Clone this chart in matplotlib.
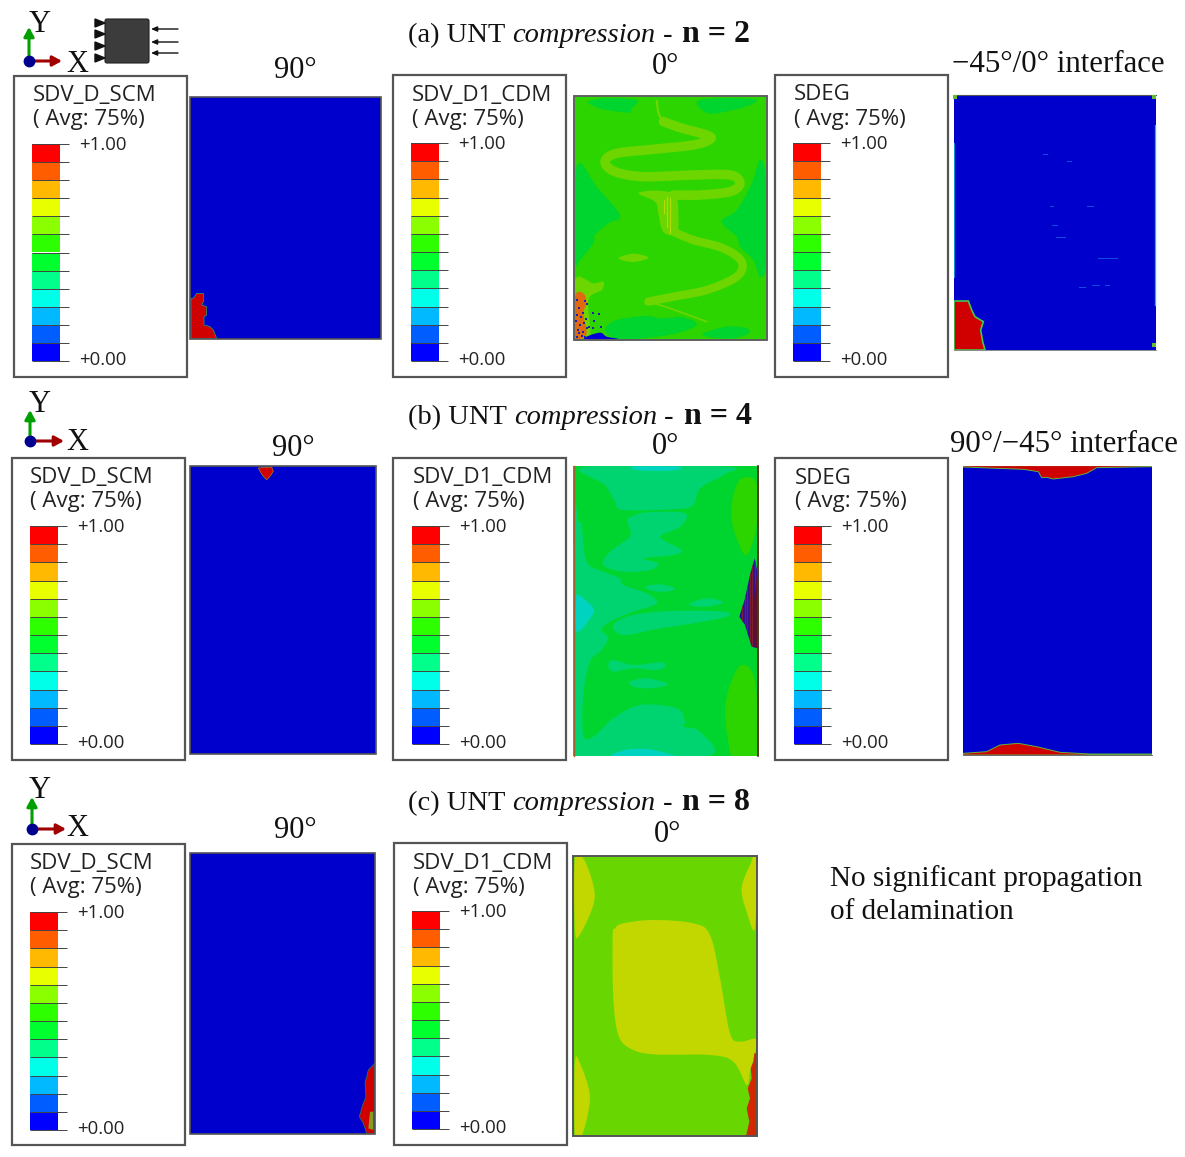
import numpy as np
import matplotlib
matplotlib.use("Agg")
import matplotlib.pyplot as plt
from matplotlib.patches import Polygon, Rectangle, FancyBboxPatch

W, H = 1185, 1157
SERIF = "Liberation Serif"
SANS = "Open Sans"

# ---------- data ----------
legend_colors = ["#ff0000", "#ff5d00", "#ffb900", "#e8ff00", "#8bff00", "#2eff00",
                 "#00ff2e", "#00ff8b", "#00ffe8", "#00b9ff", "#005dff", "#0000ff"]
legend_top = "+1.00"
legend_bottom = "+0.00"
# name, box(x0,y0,x1,y1), bar(x0,y0,x1,y1), title x, title y
legends = [
    ("SDV_D_SCM", (14, 76, 187, 377), (32, 144, 60, 361), 33, 94),
    ("SDV_D1_CDM", (393, 75, 566, 377), (411, 143, 439, 361), 412, 93),
    ("SDEG", (775, 75, 948, 377), (793, 143, 821, 361), 794, 93),
    ("SDV_D_SCM", (12, 458, 185, 760), (30, 526, 58, 744), 30, 476),
    ("SDV_D1_CDM", (393, 458, 566, 760), (412, 526, 440, 744), 413, 476),
    ("SDEG", (775, 458, 948, 760), (794, 526, 822, 744), 795, 476),
    ("SDV_D_SCM", (12, 844, 185, 1145), (30, 912, 58, 1130), 30, 862),
    ("SDV_D1_CDM", (394, 843, 567, 1145), (412, 911, 440, 1129), 413, 861),
]
panel_a1 = (190, 97, 381, 339)
panel_a2 = (574, 96, 767, 340)
panel_a3 = (954, 95, 1156, 350)
panel_b1 = (190, 466, 376, 754)
panel_b2 = (573, 466, 759, 756)
panel_b3 = (963, 466, 1152, 755)
panel_c1 = (190, 853, 375, 1134)
panel_c2 = (573, 856, 757, 1136)

titles = [
    (408, 42, "(a) UNT ", "compression", " - ", "n = 2"),
    (408, 424, "(b) UNT ", "compression", " - ", "n = 4"),
    (408, 810, "(c) UNT ", "compression", " - ", "n = 8"),
]
headers = [
    (295, 70, "90°"), (666, 66, "0°"), (293, 448, "90°"), (666, 447, "0°"),
    (295, 830, "90°"), (668, 834, "0°"),
]
interface_labels = [(952, 65, "−45°/0° interface"), (950, 445, "90°/−45° interface")]
note_lines = [(830, 879, "No significant propagation"), (830, 912, "of delamination")]
triads = [((29, 61), 27, 62, (40, 24), (77, 64)),
          ((30, 441), 410, 64, (40, 404), (77, 443)),
          ((32, 829), 797, 66, (40, 791), (77, 829))]

BLUE = "#0000cd"
RED = "#d00000"
G_BASE = "#2dd500"
G_LIGHT = "#6dd600"
G_DARK = "#00d42e"
G_TEAL = "#00d470"
G_CYAN = "#00d4c0"
LIME = "#68d600"
OLIVE = "#c2d600"

a1_origin = (0, 0)
a1_red = [(573, 895), (580, 895), (590, 880), (610, 880), (610, 905), (605, 915), (620, 920),
          (620, 945), (612, 950), (612, 975), (630, 980), (640, 990), (650, 1015), (573, 1015)]
b1_origin = (245, 458)
b1_red = [(40, 30), (80, 27), (85, 40), (75, 55), (65, 65), (55, 55), (45, 40)]
c1_origin = (340, 1040)
c1_red = [(103, 70), (100, 75), (85, 90), (75, 130), (78, 170), (68, 195), (58, 230), (70, 250),
          (80, 280), (103, 280)]
c1_core = [(90, 215), (100, 215), (100, 270), (85, 265)]

a2_origin = (560, 80)
a2_dark = [
    [(85, 65), (130, 55), (230, 60), (215, 85), (205, 98), (130, 88), (95, 75)],
    [(410, 65), (470, 55), (585, 58), (570, 75), (520, 90), (445, 100)],
    [(45, 300), (62, 250), (110, 320), (180, 405), (145, 430), (105, 465), (100, 490), (60, 540), (45, 540)],
    [(600, 240), (618, 300), (618, 550), (600, 590), (580, 540), (540, 500), (530, 470), (485, 425), (530, 390), (575, 310)],
    [(135, 750), (170, 720), (260, 708), (300, 715), (370, 712), (410, 735), (350, 760), (250, 775), (175, 778)],
    [(430, 760), (500, 740), (560, 745), (565, 760), (520, 775), (450, 772)],
]
a2_head = [(290, 62), (296, 100), (310, 125)]
a2_meander = [(310, 125), (360, 143), (440, 165), (450, 178), (400, 195), (280, 208),
              (170, 220), (135, 245), (165, 275), (250, 290), (400, 285), (510, 285), (540, 310),
              (510, 335), (420, 345), (340, 345)]
a2_meander2 = [(340, 455), (400, 480), (490, 505), (545, 545), (530, 590), (440, 630), (340, 650), (265, 665)]
a2_tail = [(265, 665), (330, 685), (440, 725)]
a2_blobs = [
    [(235, 340), (290, 332), (345, 345), (355, 400), (350, 462), (310, 455), (295, 400), (285, 365)],
    [(175, 535), (220, 521), (265, 533), (220, 546)],
    [(45, 600), (100, 610), (130, 605), (125, 630), (85, 660), (90, 770), (45, 775)],
]
a2_streak_x = [322, 330, 312]
a2_streak_y0 = [350, 355, 360]
a2_streak_y1 = [440, 460, 400]
a2_orange = [(45, 650), (70, 640), (80, 670), (70, 700), (80, 760), (60, 778), (42, 778)]
a2_deep = [(80, 770), (120, 758), (140, 770), (175, 778), (80, 780)]
a2_speck_x = [50, 75, 58, 80, 68, 52, 78, 98, 103, 116, 60, 88, 100, 70, 55, 123, 50, 66, 48, 74, 62, 82, 56, 72]
a2_speck_y = [660, 662, 685, 672, 700, 705, 718, 698, 722, 703, 735, 742, 745, 755, 750, 740, 770, 768, 722, 770, 712, 745, 760, 730]

b2_origin = (560, 455)
b2_teal = [
    [(75, 35), (500, 35), (490, 60), (420, 100), (400, 150), (350, 162), (190, 165), (165, 140), (135, 90)],
    [(205, 190), (260, 172), (375, 175), (360, 215), (305, 240), (310, 255), (365, 285), (340, 300),
     (250, 310), (295, 325), (270, 345), (190, 350), (130, 330), (150, 290), (210, 245), (205, 210)],
    [(55, 200), (65, 215), (80, 320), (130, 350), (180, 370), (190, 390), (260, 415), (290, 445),
     (220, 470), (150, 500), (125, 525), (145, 550), (120, 590), (90, 620), (70, 720), (70, 840),
     (100, 845), (160, 790), (240, 750), (350, 760), (375, 800), (370, 815), (420, 830), (440, 905),
     (45, 905), (45, 200)],
]
b2_teal_islands = [
    [(160, 510), (220, 480), (340, 468), (490, 470), (500, 485), (400, 505), (300, 520), (190, 540)],
    [(255, 395), (300, 388), (345, 400), (320, 410), (280, 408)],
    [(390, 445), (440, 430), (490, 442), (440, 455), (395, 452)],
    [(145, 630), (160, 615), (220, 630), (300, 622), (318, 632), (290, 645), (220, 640), (160, 650)],
    [(210, 680), (260, 670), (325, 688), (270, 700), (220, 695)],
]
b2_cyan = [
    [(55, 420), (100, 460), (90, 490), (50, 530), (48, 440)],
    [(220, 35), (355, 35), (340, 46), (240, 46)],
    [(160, 905), (195, 885), (260, 882), (320, 895), (335, 905)],
]
b2_green = [
    [(520, 120), (545, 70), (590, 85), (590, 210), (560, 300), (530, 250), (515, 190)],
    [(495, 770), (510, 690), (545, 630), (585, 680), (592, 905), (520, 905), (505, 860)],
]
b2_wedge = [(584, 310), (592, 350), (592, 580), (575, 575), (555, 510), (538, 485), (555, 430), (570, 360)]
b2_wedge_dark = [(592, 350), (592, 580), (584, 575), (578, 470)]

c2_origin = (560, 845)
c2_olive = [
    [(158, 275), (165, 250), (190, 235), (280, 225), (400, 235), (450, 270), (480, 400), (510, 565), (540, 590),
     (588, 582), (585, 625), (570, 680), (560, 720), (520, 650), (450, 630), (280, 628), (210, 610),
     (175, 570), (160, 460)],
    [(45, 38), (70, 40), (100, 120), (100, 180), (60, 268), (45, 255)],
    [(588, 38), (570, 60), (545, 130), (560, 200), (585, 250)],
    [(45, 650), (62, 660), (88, 740), (85, 800), (65, 872), (45, 872)],
]
c2_red = [(583, 625), (590, 625), (590, 873), (558, 873), (568, 830), (560, 790), (570, 760), (563, 730),
          (575, 700), (572, 670), (580, 650)]

a3_origin = (940, 40)
a3_red = [(42, 783), (85, 783), (95, 810), (105, 830), (130, 845), (122, 870), (128, 905), (135, 930), (42, 930)]
a3_dash_x = [[310, 322], [380, 392], [330, 340], [440, 460], [335, 352], [348, 374], [474, 532], [416, 434], [456, 476], [494, 506]]
a3_dash_y = [343, 362, 498, 498, 556, 590, 654, 741, 736, 736]
a3_corners = [(44, 170), (643, 172), (642, 915)]

b3_origin = (940, 430)
b3_red_top = [(68, 107), (635, 107), (635, 110), (470, 113), (440, 130), (400, 140), (340, 147),
              (320, 142), (305, 143), (295, 125), (250, 118), (70, 111)]
b3_red_bot = [(68, 975), (70, 970), (140, 965), (180, 945), (235, 940), (290, 950), (360, 967),
              (450, 972), (635, 972), (635, 975)]

specimen = (105, 19, 149, 63)
load_y = [29, 42, 53]
support_y = [23, 34, 46, 58]


# ---------- helpers ----------
def crop(origin, pts):
    return [(origin[0] + x / 3, origin[1] + y / 3) for x, y in pts]


def smooth(pts, closed=True, n=10):
    p = np.array(pts, float)
    m = len(p)
    out = []
    rng = range(m) if closed else range(m - 1)
    for i in rng:
        if closed:
            p0, p1, p2, p3 = p[(i - 1) % m], p[i], p[(i + 1) % m], p[(i + 2) % m]
        else:
            p0, p1, p2, p3 = p[max(i - 1, 0)], p[i], p[i + 1], p[min(i + 2, m - 1)]
        for t in np.linspace(0, 1, n, endpoint=False):
            out.append(0.5 * (2 * p1 + (p2 - p0) * t + (2 * p0 - 5 * p1 + 4 * p2 - p3) * t ** 2
                              + (3 * p1 - p0 - 3 * p2 + p3) * t ** 3))
    if not closed:
        out.append(p[-1])
    return np.array(out)


fig = plt.figure(figsize=(W / 100, H / 100), dpi=100, facecolor="white")
ax = fig.add_axes([0, 0, 1, 1])
ax.set_xlim(0, W)
ax.set_ylim(H, 0)
ax.axis("off")


def clip_rect(p):
    return Rectangle((p[0], p[1]), p[2] - p[0], p[3] - p[1], transform=ax.transData)


def panel(p, color):
    ax.add_patch(Rectangle((p[0], p[1]), p[2] - p[0], p[3] - p[1], fc=color, ec="none", zorder=1))


def frame(p, color="#555555", lw=1.2):
    ax.add_patch(Rectangle((p[0], p[1]), p[2] - p[0], p[3] - p[1], fc="none", ec=color, lw=lw, zorder=6))


def shape(origin, pts, color, p, sm=True, z=2, ec="none", lw=0):
    xy = crop(origin, pts) if origin else pts
    if sm:
        xy = smooth(xy)
    patch = Polygon(xy, closed=True, fc=color, ec=ec, lw=lw, zorder=z)
    ax.add_patch(patch)
    patch.set_clip_path(clip_rect(p))


def stroke(origin, pts, color, lw, p, z=3, sm=True):
    xy = np.array(crop(origin, pts))
    if sm:
        xy = smooth(xy, closed=False)
    l, = ax.plot(xy[:, 0], xy[:, 1], color=color, lw=lw, zorder=z, solid_capstyle="round", solid_joinstyle="round")
    l.set_clip_path(clip_rect(p))


def draw_legend(name, box, bar, tx, ty):
    ax.add_patch(Rectangle((box[0], box[1]), box[2] - box[0], box[3] - box[1], fc="white", ec="#555555", lw=1.6, zorder=2))
    ax.text(tx, ty + 2, name, family=SANS, fontsize=16, va="center", ha="left", color="#222222", zorder=5)
    ax.text(tx, ty + 26, "( Avg: 75%)", family=SANS, fontsize=16, va="center", ha="left", color="#222222", zorder=5)
    n = len(legend_colors)
    edges = np.linspace(bar[1], bar[3], n + 1)
    for i, c in enumerate(legend_colors):
        ax.add_patch(Rectangle((bar[0], edges[i]), bar[2] - bar[0], edges[i + 1] - edges[i], fc=c, ec="none", zorder=3))
    ax.hlines(edges, bar[0], bar[2] + 9, color="#444444", lw=0.7, zorder=4)
    ax.text(bar[0] + 47, bar[1] + 1, legend_top, family=SANS, fontsize=13.4, va="center", ha="left", color="#222222", zorder=5)
    ax.text(bar[0] + 47, bar[3] - 1, legend_bottom, family=SANS, fontsize=13.4, va="center", ha="left", color="#222222", zorder=5)


def rich_title(x, y, a, b, c, d):
    r = fig.canvas.get_renderer()
    for s, kw, fs, gap in ((a, {}, 20.5, 0), (b, {"style": "italic"}, 20.5, 0),
                           (c, {}, 20.5, 3), (d, {"weight": "bold"}, 23, 0)):
        t = ax.text(x, y, s, family=SERIF, fontsize=fs, va="baseline", ha="left", color="#111111", zorder=7, **kw)
        w, _, _ = r.get_text_width_height_descent(s.replace(" ", "\u00a0"), t.get_fontproperties(), False)
        x += w + gap


def triad(origin, top, right, y_pos, x_pos):
    ox, oy = origin
    ax.annotate("", xy=(ox, top), xytext=(ox, oy), zorder=7,
                arrowprops=dict(arrowstyle="-|>,head_width=0.3,head_length=0.55", color="#00a000", lw=2.2, shrinkA=0, shrinkB=0))
    ax.annotate("", xy=(right, oy), xytext=(ox, oy), zorder=7,
                arrowprops=dict(arrowstyle="-|>,head_width=0.3,head_length=0.55", color="#a00000", lw=2.2, shrinkA=0, shrinkB=0))
    ax.plot([ox], [oy], "o", color="#000090", ms=7.5, zorder=8)
    ax.text(*y_pos, "Y", family=SERIF, fontsize=22, ha="center", va="center", color="#111111", zorder=8)
    ax.text(*x_pos, "X", family=SERIF, fontsize=22, ha="center", va="center", color="#111111", zorder=8)


# ---------- legends ----------
for L in legends:
    draw_legend(*L)

# ---------- panel a1 ----------
panel(panel_a1, BLUE)
shape(a1_origin, a1_red, RED, panel_a1, sm=False, ec="#20a860", lw=0.5)
frame(panel_a1)

# ---------- panel a2 ----------
panel(panel_a2, G_BASE)
for s in a2_dark:
    shape(a2_origin, s, G_DARK, panel_a2)
for s in a2_blobs:
    shape(a2_origin, s, G_LIGHT, panel_a2)
stroke(a2_origin, a2_head, G_LIGHT, 1.6, panel_a2)
stroke(a2_origin, a2_meander, G_LIGHT, 6.8, panel_a2)
stroke(a2_origin, a2_meander2, G_LIGHT, 6.0, panel_a2)
stroke(a2_origin, a2_tail, G_LIGHT, 1.2, panel_a2)
for x, y0, y1 in zip(a2_streak_x, a2_streak_y0, a2_streak_y1):
    xy = np.array(crop(a2_origin, [(x, y0), (x, y1)]))
    ax.plot(xy[:, 0], xy[:, 1], color="#b4dc00", lw=0.8, zorder=4)
shape(a2_origin, a2_orange, "#e06a10", panel_a2, z=3)
shape(a2_origin, a2_deep, "#0000d8", panel_a2, z=3)
sx, sy = zip(*crop(a2_origin, list(zip(a2_speck_x, a2_speck_y))))
ax.scatter(sx, sy, s=3.5, marker="s", color="#2020a8", linewidths=0, zorder=4)
frame(panel_a2, "#606060", 1.4)

# ---------- panel a3 ----------
panel(panel_a3, BLUE)
shape(a3_origin, a3_red, RED, panel_a3, sm=False, ec="#40c850", lw=1.2)
for xs, y in zip(a3_dash_x, a3_dash_y):
    xy = np.array(crop(a3_origin, [(xs[0], y), (xs[1], y)]))
    ax.plot(xy[:, 0], xy[:, 1], color="#1050e0", lw=0.7, zorder=3)
xy = np.array(crop(a3_origin, [(646, 255), (646, 795)]))
ax.plot(xy[:, 0], xy[:, 1], color="#10c0d0", lw=0.9, zorder=3)
xy = np.array(crop(a3_origin, [(43, 310), (43, 710)]))
ax.plot(xy[:, 0], xy[:, 1], color="#1090e0", lw=0.7, zorder=3)
cx, cy = zip(*crop(a3_origin, a3_corners))
ax.scatter(cx, cy, s=6, marker="s", color="#60c030", linewidths=0, zorder=7)
ax.plot([panel_a3[0], panel_a3[2]], [panel_a3[1]] * 2, color="#555555", lw=0.8, zorder=6)
ax.plot([panel_a3[0], panel_a3[2]], [panel_a3[3]] * 2, color="#777777", lw=0.6, zorder=6)

# ---------- panel b1 ----------
panel(panel_b1, BLUE)
shape(b1_origin, b1_red, RED, panel_b1, sm=False, ec="#b08020", lw=0.5)
frame(panel_b1)

# ---------- panel b2 ----------
panel(panel_b2, G_DARK)
for s in b2_teal + b2_teal_islands:
    shape(b2_origin, s, G_TEAL, panel_b2)
for s in b2_cyan:
    shape(b2_origin, s, G_CYAN, panel_b2, z=3)
for s in b2_green:
    shape(b2_origin, s, G_BASE, panel_b2, z=3)
shape(b2_origin, b2_wedge, "#2a10a8", panel_b2, sm=False, z=4)
wedge = np.array(crop(b2_origin, b2_wedge))
ax.vlines(np.arange(wedge[:, 0].min() + 3, wedge[:, 0].max(), 2.5), 555, 650, color="#7a2030", lw=0.9, zorder=5,
          clip_path=Polygon(wedge, transform=ax.transData))
shape(b2_origin, b2_wedge_dark, "#60102c", panel_b2, sm=False, z=5)
ax.plot([panel_b2[2] - 1] * 2, [panel_b2[1], panel_b2[3]], color="#602020", lw=1.2, zorder=5)
ax.plot([panel_b2[0] + 1] * 2, [panel_b2[1], panel_b2[3]], color="#a06030", lw=1.0, zorder=5)

# ---------- panel b3 ----------
panel(panel_b3, BLUE)
shape(b3_origin, b3_red_top, RED, panel_b3, sm=False, ec="#60b040", lw=0.7)
shape(b3_origin, b3_red_bot, RED, panel_b3, sm=False, ec="#60b040", lw=0.7)
ax.plot([panel_b3[0], panel_b3[2]], [panel_b3[3]] * 2, color="#505050", lw=0.6, zorder=6)

# ---------- panel c1 ----------
panel(panel_c1, BLUE)
shape(c1_origin, c1_red, RED, panel_c1, sm=False, ec="#208060", lw=0.5)
shape(c1_origin, c1_core, "#8a9a20", panel_c1, sm=False, z=3)
frame(panel_c1)

# ---------- panel c2 ----------
panel(panel_c2, LIME)
for s in c2_olive:
    shape(c2_origin, s, OLIVE, panel_c2)
shape(c2_origin, c2_red, "#d02800", panel_c2, sm=False, z=3)
frame(panel_c2, "#555555", 1.4)

# ---------- specimen icon ----------
ax.add_patch(FancyBboxPatch((specimen[0] + 1, specimen[1] + 1), specimen[2] - specimen[0] - 2, specimen[3] - specimen[1] - 2,
                            boxstyle="round,pad=1,rounding_size=2", fc="#3c3c3c", ec="#222222", lw=0.8, zorder=5))
for y in load_y:
    ax.annotate("", xy=(151, y), xytext=(178, y), zorder=5,
                arrowprops=dict(arrowstyle="-|>,head_width=0.15,head_length=0.35", color="#111111", lw=1.0, shrinkA=0, shrinkB=0))
for y in support_y:
    ax.fill([95, 95, 105], [y - 4, y + 4, y], color="#111111", zorder=5)

# ---------- triads ----------
for t in triads:
    triad(*t)

# ---------- text ----------
fig.canvas.draw()
for t in titles:
    rich_title(*t)
for x, y, s in headers:
    ax.text(x, y, s, family=SERIF, fontsize=22, ha="center", va="center", color="#111111", zorder=7)
for x, y, s in interface_labels:
    ax.text(x, y, s, family=SERIF, fontsize=22.2, ha="left", va="center", color="#111111", zorder=7)
for x, y, s in note_lines:
    ax.text(x, y, s, family=SERIF, fontsize=21, ha="left", va="center", color="#111111", zorder=7)

fig.savefig("out.png", dpi=100, facecolor="white")
